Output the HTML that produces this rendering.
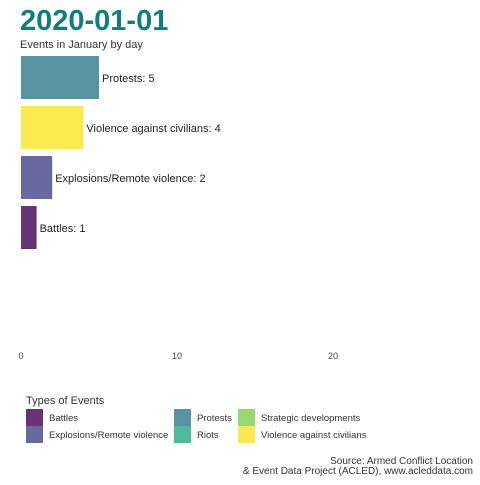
<!DOCTYPE html>
<html><head><meta charset="utf-8"><style>
body{margin:0;background:#fff;font-family:"Liberation Sans",sans-serif}
svg text{font-family:"Liberation Sans",sans-serif}
</style></head><body>
<svg width="480" height="480">
<text x="20" y="30" font-size="29" font-weight="bold" fill="#0f7f7e">2020-01-01</text>
<text x="20" y="48" font-size="11" fill="#333">Events in January by day</text>
<g id="bars"></g>
<g id="ticks"></g>
<g id="legend">
<text x="26" y="404" font-size="11" fill="#333">Types of Events</text>
</g>
<text x="473" y="464" font-size="10" fill="#333" text-anchor="end">Source: Armed Conflict Location</text>
<text x="473" y="474" font-size="10" fill="#333" text-anchor="end">&amp; Event Data Project (ACLED), www.acleddata.com</text>
</svg>
<script>
const categories=["Protests","Violence against civilians","Explosions/Remote violence","Battles"];
const values=[5,4,2,1];
const barColors=["#5893a3","#fbe94f","#686a9f","#673473"];
const tickValues=[0,10,20];
const legendNames=["Battles","Explosions/Remote violence","Protests","Riots","Strategic developments","Violence against civilians"];
const legendColors=["#673473","#686a9f","#5893a3","#4dba9c","#98d86f","#fbe94f"];
const NS="http://www.w3.org/2000/svg";
const x=v=>21+v*15.6;
const y=i=>56+i*50;
function mk(t,a,p){const e=document.createElementNS(NS,t);for(const k in a)e.setAttribute(k,a[k]);p.appendChild(e);return e;}
const bars=document.getElementById('bars');
categories.forEach((c,i)=>{
 const r=mk('rect',{x:x(0),y:y(i),width:x(values[i])-x(0),height:43,fill:barColors[i]},bars);
 
 
 const t=mk('text',{x:x(values[i])+3,y:y(i)+26,'font-size':11,fill:'#222'},bars);
 t.textContent=c+': '+values[i];
 
 
});
const ticks=document.getElementById('ticks');
tickValues.forEach(v=>{
 const t=mk('text',{x:x(v),y:359,'font-size':9,fill:'#444','text-anchor':'middle'},ticks);
 t.textContent=v;
 
 
});
const lg=document.getElementById('legend');
const lx=[26,26,174,174,238,238];
legendNames.forEach((n,i)=>{
 const ly=409+(i%2)*17;
 const s=mk('rect',{x:lx[i],y:ly,width:17,height:17,fill:legendColors[i]},lg);
 
 
 const t=mk('text',{x:lx[i]+23,y:ly+12,'font-size':9.5,fill:'#333'},lg);
 t.textContent=n;
 
 
});
</script>
</body></html>
